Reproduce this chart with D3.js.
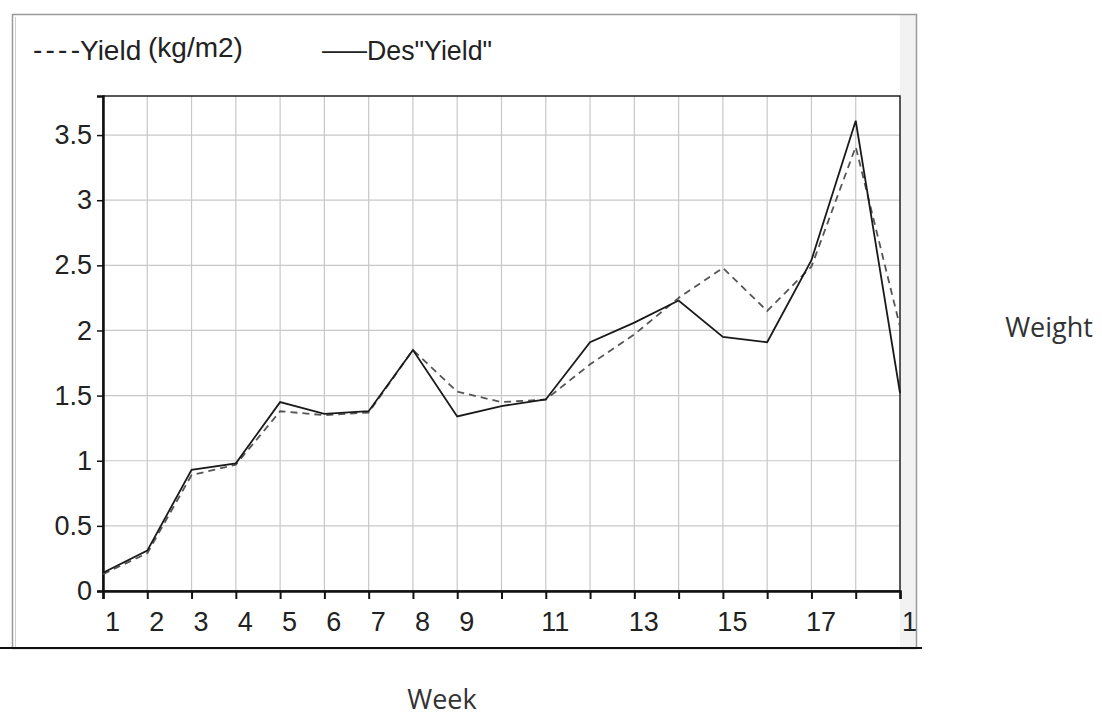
<!DOCTYPE html>
<html><head><meta charset="utf-8">
<script src="https://cdn.jsdelivr.net/npm/d3@7"></script>
<style>body{margin:0;background:#fff;} svg{display:block;}</style>
</head><body>
<svg id="c" width="1102" height="719"></svg>
<script>
const weeks = [1,2,3,4,5,6,7,8,9,10,11,12,13,14,15,16,17,18,19];
const yieldKg = [0.13,0.29,0.89,0.97,1.38,1.35,1.37,1.85,1.53,1.45,1.47,1.74,1.97,2.25,2.48,2.15,2.49,3.41,2.03];
const desYield = [0.14,0.31,0.93,0.98,1.45,1.36,1.38,1.85,1.34,1.42,1.47,1.91,2.06,2.23,1.95,1.91,2.54,3.61,1.52];
const xTickLabels = {1:"1",2:"2",3:"3",4:"4",5:"5",6:"6",7:"7",8:"8",9:"9",11:"11",13:"13",15:"15",17:"17",19:"1"};
const yTicks = [0,0.5,1,1.5,2,2.5,3,3.5];
const legendNames = ["Yield", "(kg/m2)", "Des\"Yield\""];
const xTitle = "Week", yTitle = "Weight";

const svg = d3.select("#c");
const L=103,R=900,T=96,B=591;
const x = d3.scaleLinear().domain([1,19]).range([L,R]);
const y = d3.scaleLinear().domain([0,3.8]).range([B,T]);
const font = "'Liberation Sans',Arial,sans-serif";

// outer frame
svg.append("rect").attr("x",900).attr("y",14).attr("width",17).attr("height",634).attr("fill","#f2f2f2");
svg.append("rect").attr("x",12.5).attr("y",14.5).attr("width",904).attr("height",634).attr("fill","none").attr("stroke","#9a9a9a").attr("stroke-width",1.5);
svg.append("line").attr("x1",15.5).attr("x2",15.5).attr("y1",17).attr("y2",648).attr("stroke","#cfcfcf");
svg.append("line").attr("x1",0).attr("x2",922).attr("y1",648).attr("y2",648).attr("stroke","#111").attr("stroke-width",2);

// grid
svg.append("g").selectAll("line").data(weeks.slice(1,-1)).join("line")
  .attr("x1",d=>x(d)).attr("x2",d=>x(d)).attr("y1",T).attr("y2",B)
  .attr("stroke","#c8c8c8").attr("stroke-width",1.2);
svg.append("g").selectAll("line").data(yTicks.slice(1)).join("line")
  .attr("x1",L).attr("x2",R).attr("y1",d=>y(d)).attr("y2",d=>y(d))
  .attr("stroke","#c8c8c8").attr("stroke-width",1.2);

// plot border
svg.append("rect").attr("x",L).attr("y",T).attr("width",R-L).attr("height",B-T).attr("fill","none").attr("stroke","#222").attr("stroke-width",1.5);

// axes
const xAxis = d3.axisBottom(x).tickValues(weeks).tickSize(8).tickFormat(d=>xTickLabels[d]||"");
const gx = svg.append("g").attr("transform",`translate(0,${B})`).call(xAxis);
gx.select(".domain").attr("stroke","#111").attr("stroke-width",2.5);
gx.selectAll(".tick line").attr("stroke","#111").attr("stroke-width",2);
gx.selectAll(".tick text").attr("font-family",font).attr("font-size",27).attr("fill","#222")
  .attr("dx",9).attr("y",40).attr("dy",0);

const yAxis = d3.axisLeft(y).tickValues(yTicks).tickSize(6).tickFormat(d=>String(d));
const gy = svg.append("g").attr("transform",`translate(${L},0)`).call(yAxis);
gy.select(".domain").attr("stroke","#111").attr("stroke-width",2.5);
gy.selectAll(".tick line").attr("stroke","#111").attr("stroke-width",1.5);
gy.selectAll(".tick text").attr("font-family",font).attr("font-size",27).attr("fill","#222").attr("dx",-2);

// lines
const line = d3.line().x((d,i)=>x(weeks[i])).y(d=>y(d));
svg.append("path").datum(yieldKg).attr("d",line).attr("fill","none").attr("stroke","#555").attr("stroke-width",1.8).attr("stroke-dasharray","7,5");
svg.append("path").datum(desYield).attr("d",line).attr("fill","none").attr("stroke","#1a1a1a").attr("stroke-width",1.8);

// legend
const lg = svg.append("g").attr("font-family",font).attr("font-size",28).attr("fill","#222");
lg.append("text").attr("x",33).attr("y",59).attr("textLength",47).attr("lengthAdjust","spacing").text("----");
lg.append("text").attr("x",80).attr("y",60).text(legendNames[0]);
lg.append("text").attr("x",148).attr("y",57).text(legendNames[1]);
lg.append("text").attr("x",322).attr("y",59).attr("textLength",45).attr("lengthAdjust","spacingAndGlyphs").text("\u2014");
lg.append("text").attr("x",367).attr("y",60).attr("textLength",125).attr("lengthAdjust","spacingAndGlyphs").text(legendNames[2]);

// titles
svg.append("text").attr("x",442).attr("y",709).attr("text-anchor","middle").attr("font-family","'Open Sans',sans-serif").attr("font-size",27).attr("fill","#333").text(xTitle);
svg.append("text").attr("x",1049).attr("y",337).attr("text-anchor","middle").attr("font-family","'Open Sans',sans-serif").attr("font-size",27).attr("fill","#333").text(yTitle);
</script>
</body></html>
